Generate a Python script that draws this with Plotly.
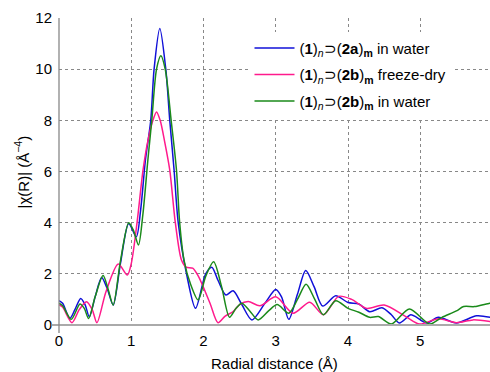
import plotly.graph_objects as go

# Series data
blue_x = [0.0, 0.05, 0.15, 0.22, 0.30, 0.36, 0.42, 0.50, 0.59, 0.67, 0.75, 0.85, 0.965, 1.07, 1.13, 1.196,
          1.27, 1.316, 1.395, 1.478, 1.533, 1.593, 1.65, 1.765, 1.89, 2.03, 2.115, 2.2, 2.31, 2.41, 2.53,
          2.67, 2.85, 3.0, 3.08, 3.18, 3.3, 3.415, 3.53, 3.65, 3.83, 4.0, 4.15, 4.3, 4.47, 4.6, 4.71, 4.87,
          4.95, 5.09, 5.25, 5.5, 5.78, 6.0]
blue_y = [0.95, 0.85, 0.26, 0.6, 1.04, 0.8, 0.32, 1.1, 1.86, 1.4, 0.78, 2.4, 3.97, 3.45, 4.5, 6.45,
          8.0, 10.0, 11.59, 10.0, 8.0, 6.05, 4.0, 2.0, 0.65, 2.0, 2.26, 1.75, 1.17, 1.34, 0.8,
          0.2, 0.85, 1.39, 1.1, 0.22, 1.2, 2.13, 1.5, 0.74, 1.14, 0.88, 0.82, 0.52, 0.67, 0.4, 0.08, 0.4,
          0.3, 0.08, 0.3, 0.08, 0.36, 0.28]

pink_x = [0.0, 0.05, 0.18, 0.28, 0.38, 0.46, 0.525, 0.65, 0.82, 0.945, 1.0, 1.08, 1.163, 1.23, 1.30,
          1.35, 1.40, 1.46, 1.533, 1.61, 1.695, 1.76, 1.85, 1.93, 2.09, 2.2, 2.3, 2.41, 2.5, 2.62, 2.78,
          3.0, 3.24, 3.47, 3.66, 3.87, 4.05, 4.26, 4.5, 4.8, 4.99, 5.25, 5.5, 5.73, 6.0]
pink_y = [0.8, 0.7, 0.09, 0.6, 0.91, 0.6, 0.09, 1.3, 2.38, 1.95, 2.4, 4.0, 6.05, 7.2, 8.0,
          8.33, 8.0, 7.2, 6.05, 4.0, 2.54, 2.26, 2.22, 1.9, 0.85, 0.09, 0.35, 0.52, 0.8, 0.92, 0.75,
          1.1, 0.46, 0.89, 0.4, 1.12, 1.0, 0.65, 0.78, 0.33, 0.04, 0.24, 0.09, 0.2, 0.12]

green_x = [0.0, 0.05, 0.17, 0.29, 0.35, 0.41, 0.5, 0.61, 0.68, 0.75, 0.85, 0.965, 1.03, 1.10, 1.16,
           1.23, 1.284, 1.35, 1.41, 1.47, 1.552, 1.626, 1.67, 1.73, 1.82, 1.925, 2.03, 2.14, 2.25,
           2.36, 2.45, 2.53, 2.64, 2.755, 2.9, 3.02, 3.18, 3.3, 3.42, 3.54, 3.66, 3.83, 4.0, 4.15,
           4.3, 4.42, 4.6, 4.85, 5.13, 5.3, 5.5, 5.6, 5.75, 5.96, 6.0]
green_y = [0.85, 0.75, 0.22, 0.82, 0.65, 0.25, 1.1, 1.93, 1.4, 0.78, 2.5, 4.0, 3.7, 3.13, 4.3,
           6.45, 8.0, 10.0, 10.52, 10.0, 8.0, 6.05, 4.0, 2.54, 1.6, 0.98, 1.9, 2.47, 1.5,
           0.3, 0.65, 0.85, 0.55, 0.2, 0.55, 0.8, 0.46, 1.0, 1.59, 1.0, 0.4, 0.95, 0.65, 0.5,
           0.3, 0.33, 0.04, 0.63, 0.04, 0.3, 0.55, 0.72, 0.72, 0.85, 0.86]

names = [
    "(<b>1</b>)<sub><i>n</i></sub>⊃(<b>2a</b>)<sub><b>m</b></sub> in water",
    "(<b>1</b>)<sub><i>n</i></sub>⊃(<b>2b</b>)<sub><b>m</b></sub> freeze-dry",
    "(<b>1</b>)<sub><i>n</i></sub>⊃(<b>2b</b>)<sub><b>m</b></sub> in water",
]
colors = ["#1010d8", "#ff1a8c", "#1a8a1a"]

x_ticks = [0, 1, 2, 3, 4, 5, 6]
y_ticks = [0, 2, 4, 6, 8, 10, 12]
x_title = "Radial distance (Å)"
y_title = "|χ(R)| (Å<sup>−4</sup>)"

fig = go.Figure()
for i, (xs, ys) in enumerate([(blue_x, blue_y), (pink_x, pink_y), (green_x, green_y)]):
    fig.add_trace(go.Scatter(
        x=xs, y=ys, mode="lines", name=names[i],
        line=dict(color=colors[i], width=1.5, shape="spline", smoothing=0.8),
        legendgroup=f"g{i}",
    ))

font_family = "Liberation Sans, Arial, Helvetica, sans-serif"
fig.update_layout(
    width=490, height=372,
    margin=dict(l=59, r=0, t=18, b=47, autoexpand=False),
    paper_bgcolor="white", plot_bgcolor="white",
    font=dict(family=font_family, size=14, color="black"),
    showlegend=True,
    legend=dict(
        x=0.442, y=0.955, xanchor="left", yanchor="top",
        bgcolor="white", borderwidth=0,
        font=dict(size=15, family=font_family),
        tracegroupgap=4,
        itemwidth=40,
    ),
    xaxis=dict(
        range=[0, 5.965], tickvals=x_ticks, showline=False, zeroline=False, automargin=False,
        showgrid=True, gridcolor="#888888", griddash="dot", gridwidth=1,
        ticks="", tickfont=dict(size=15), ticklabelstandoff=5,
    ),
    yaxis=dict(
        range=[0, 12], tickvals=y_ticks, showline=False, zeroline=False, automargin=False,
        showgrid=True, gridcolor="#888888", griddash="dot", gridwidth=1,
        ticks="", tickfont=dict(size=15), ticklabelstandoff=6,
    ),
    annotations=[
        dict(text=x_title, xref="paper", yref="paper", x=0.5, y=-0.124,
             xanchor="center", yanchor="middle", showarrow=False, font=dict(size=15)),
        dict(text=y_title, xref="paper", yref="paper", x=-0.086, y=0.5, textangle=-90,
             xanchor="center", yanchor="middle", showarrow=False, font=dict(size=15)),
    ],
    shapes=[
        dict(type="line", xref="x domain", yref="y domain", x0=-0.017, x1=1, y0=0, y1=0,
             line=dict(color="#aaaaaa", width=2), layer="above"),
        dict(type="line", xref="x domain", yref="y domain", x0=0, x1=0, y0=-0.026, y1=1,
             line=dict(color="#888888", width=1.3), layer="above"),
    ],
)

fig.write_html(
    "out.html",
    config={"displayModeBar": False},
    post_script="document.body.style.margin='0px';document.body.style.overflow='hidden';",
)
